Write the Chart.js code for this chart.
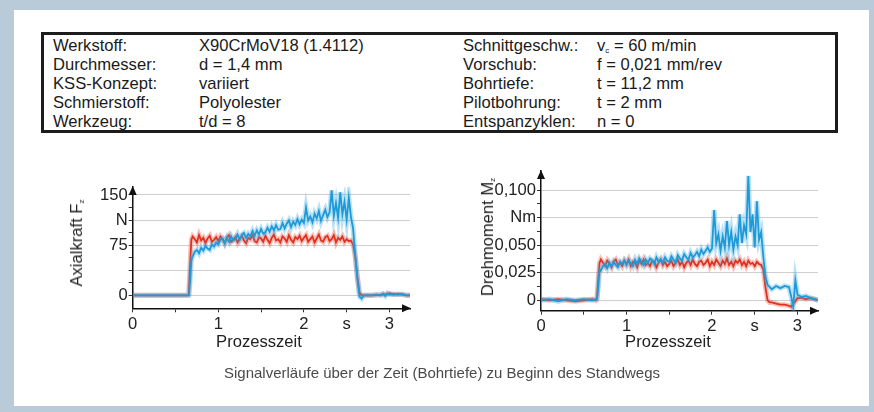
<!DOCTYPE html>
<html>
<head>
<meta charset="utf-8">
<script src="https://cdn.jsdelivr.net/npm/chart.js@4.4.1/dist/chart.umd.min.js"></script>
<style>
  html, body { margin: 0; padding: 0; }
  body { width: 874px; height: 412px; background: #b9cbd8; position: relative; overflow: hidden;
         font-family: Arial, "Liberation Sans", sans-serif; color: #1a1a1a; }
  .panel { position: absolute; left: 14px; top: 10px; width: 855px; height: 396px; background: #fff; }
  .box { position: absolute; left: 41px; top: 32px; width: 797px; height: 101px; box-sizing: border-box;
         border: 3px solid #1c1c1c; }
  .col { position: absolute; top: 35.5px; font-size: 16.6px; line-height: 19.1px; white-space: nowrap; }
  .col div { height: 19.1px; }
  sub { font-size: 8px; vertical-align: -2px; line-height: 0; }
  canvas { position: absolute; }
  .ytitle { position: absolute; font-size: 16.6px; white-space: nowrap; color: #222;
            transform: translate(-50%, -50%) rotate(-90deg); }
  .xtitle { position: absolute; font-size: 16.6px; white-space: nowrap; color: #222; transform: translate(-50%, -50%); }
  .caption { position: absolute; left: 442px; top: 372px; transform: translate(-50%, -50%); font-size: 15px;
             color: #4a4a4a; white-space: nowrap; }
</style>
</head>
<body>
<div class="panel"></div>
<div class="box"></div>
<div class="col" style="left:53px"><div>Werkstoff:</div><div>Durchmesser:</div><div>KSS-Konzept:</div><div>Schmierstoff:</div><div>Werkzeug:</div></div>
<div class="col" style="left:199px"><div>X90CrMoV18 (1.4112)</div><div>d = 1,4 mm</div><div>variiert</div><div>Polyolester</div><div>t/d = 8</div></div>
<div class="col" style="left:463px"><div>Schnittgeschw.:</div><div>Vorschub:</div><div>Bohrtiefe:</div><div>Pilotbohrung:</div><div>Entspanzyklen:</div></div>
<div class="col" style="left:597px"><div>v<sub>c</sub> = 60 m/min</div><div>f = 0,021 mm/rev</div><div>t = 11,2 mm</div><div>t = 2 mm</div><div>n = 0</div></div>

<canvas id="fz" width="356" height="176" style="left:60px; top:176px"></canvas>
<canvas id="mz" width="356" height="196" style="left:470px; top:160px"></canvas>

<div class="ytitle" style="left:77px; top:243px">Axialkraft F<sub>z</sub></div>
<div class="ytitle" style="left:488px; top:237px">Drehmoment M<sub>z</sub></div>
<div class="xtitle" style="left:259px; top:342px">Prozesszeit</div>
<div class="xtitle" style="left:668px; top:342px">Prozesszeit</div>
<div class="caption">Signalverläufe über der Zeit (Bohrtiefe) zu Beginn des Standwegs</div>

<script>
// time axis (s), shared by all four signals
const TIME = [
  0, 0.1, 0.2, 0.3, 0.4, 0.5, 0.6, 0.64, 0.655, 0.67, 0.685,
  0.7, 0.725, 0.75, 0.775, 0.8, 0.825, 0.85, 0.875, 0.9, 0.925, 0.95, 0.975,
  1.0, 1.025, 1.05, 1.075, 1.1, 1.125, 1.15, 1.175, 1.2, 1.225, 1.25, 1.275, 1.3, 1.325, 1.35, 1.375, 1.4, 1.425, 1.45, 1.475,
  1.5, 1.525, 1.55, 1.575, 1.6, 1.625, 1.65, 1.675, 1.7, 1.725, 1.75, 1.775, 1.8, 1.825, 1.85, 1.875, 1.9, 1.925, 1.95, 1.975,
  2.0, 2.025, 2.05, 2.075, 2.1, 2.125, 2.15, 2.175, 2.2, 2.225, 2.25, 2.275, 2.3, 2.325, 2.35, 2.375, 2.4, 2.425, 2.45, 2.475, 2.5, 2.525, 2.55,
  2.575, 2.6, 2.625, 2.65, 2.675, 2.7, 2.75, 2.8, 2.85, 2.9, 2.925, 2.95, 2.975, 3.0, 3.05, 3.1, 3.15, 3.2, 3.24
];

// Axialkraft Fz (N)
const FZ_RED = [
  0, 0, 0, 0, 0, 0, 0, 0, 1, 45, 83,
  88, 84, 79, 90, 82, 86, 78, 85, 89, 80, 83, 87,
  81, 88, 84, 78, 86, 90, 80, 83, 87, 79, 85, 89, 82, 78, 86, 84, 90, 81, 79, 87,
  85, 80, 89, 83, 78, 86, 91, 82, 84, 79, 88, 85, 80, 90, 83, 79, 87, 84, 89, 81,
  86, 90, 80, 84, 88, 79, 85, 91, 82, 80, 87, 89, 81, 84, 90, 79, 86, 83, 88, 80, 84, 81, 82,
  76, 58, 28, 4, 0, 0, 0, 0, 0.5, 1, 2, 1, 2, 3, 1, 2, 1, 0, 0
];
const FZ_BLUE = [
  0, 0, 0, 0, 0, 0, 0, 0, 0, 20, 52,
  58, 65, 68, 63, 71, 67, 74, 70, 68, 76, 73, 79,
  76, 83, 85, 78, 86, 80, 88, 82, 84, 91, 83, 90, 93, 86, 92, 88, 96, 89, 97, 91,
  99, 92, 94, 101, 95, 103, 97, 105, 98, 99, 108, 100, 107, 112, 102, 110, 105, 114, 106, 113,
  108, 131, 112, 118, 109, 122, 115, 126, 111, 120, 128, 117, 124, 157, 119, 138, 116, 154, 121, 140, 113, 146, 117,
  100, 60, 25, -2, -5, 0, 0, 0, 1, 0, 2, -1, 3, 1, 2, 1, 2, 0, 0
];

// Drehmoment Mz (Nm)
const MZ_RED = [
  0.001, 0.000, 0.001, 0.000, -0.001, 0.000, 0.001, 0.000, 0.002, 0.020, 0.034,
  0.037, 0.034, 0.031, 0.036, 0.033, 0.030, 0.035, 0.037, 0.032, 0.034, 0.031, 0.036,
  0.033, 0.037, 0.031, 0.035, 0.034, 0.030, 0.036, 0.033, 0.037, 0.032, 0.034, 0.031, 0.036, 0.035, 0.030, 0.034, 0.037, 0.032, 0.035, 0.031,
  0.033, 0.036, 0.031, 0.034, 0.037, 0.032, 0.035, 0.030, 0.034, 0.036, 0.032, 0.037, 0.033, 0.031, 0.035, 0.036, 0.032, 0.034, 0.037, 0.031,
  0.035, 0.032, 0.037, 0.034, 0.031, 0.036, 0.033, 0.038, 0.032, 0.035, 0.031, 0.036, 0.034, 0.037, 0.032, 0.035, 0.031, 0.036, 0.033, 0.034, 0.031, 0.035, 0.033,
  0.032, 0.028, 0.012, 0.000, -0.002, -0.002, -0.003, -0.004, -0.004, -0.005, -0.006, -0.003, -0.001, 0.002, 0.002, 0.001, 0.002, 0.001, 0.000
];
const MZ_BLUE = [
  0.000, 0.001, -0.001, 0.001, 0.000, 0.001, 0.000, 0.001, 0.001, 0.012, 0.028,
  0.027, 0.031, 0.033, 0.029, 0.034, 0.031, 0.035, 0.032, 0.030, 0.035, 0.033, 0.036,
  0.032, 0.036, 0.034, 0.031, 0.037, 0.033, 0.038, 0.035, 0.032, 0.037, 0.034, 0.038, 0.036, 0.033, 0.039, 0.035, 0.037, 0.034, 0.039, 0.036,
  0.035, 0.040, 0.037, 0.034, 0.041, 0.038, 0.036, 0.042, 0.039, 0.037, 0.043, 0.039, 0.041, 0.044, 0.040, 0.046, 0.042, 0.045, 0.048, 0.044,
  0.047, 0.082, 0.052, 0.060, 0.045, 0.058, 0.048, 0.072, 0.050, 0.062, 0.046, 0.058, 0.050, 0.078, 0.052, 0.068, 0.060, 0.113, 0.062, 0.078, 0.048, 0.090, 0.055,
  0.062, 0.040, 0.022, 0.014, 0.012, 0.010, 0.013, 0.011, 0.013, 0.012, 0.004, -0.006, 0.018, 0.005, 0.003, 0.004, 0.002, 0.001, 0.000
];

// axis ticks and their labels
const X_TICKS = [0, 0.5, 1, 1.5, 2, 2.5, 3];
const X_LABELS = ['0', '', '1', '', '2', 's', '3'];
const FZ_TICKS = [0, 18.75, 37.5, 56.25, 75, 93.75, 112.5, 131.25, 150];
const FZ_LABELS = ['0', '', '', '', '75', '', 'N', '', '150'];
const MZ_TICKS = [0, 0.0125, 0.025, 0.0375, 0.05, 0.0625, 0.075, 0.0875, 0.1];
const MZ_LABELS = ['0', '', '0,025', '', '0,050', '', 'Nm', '', '0,100'];

const BLUE = '#1e9ad8';
const BLUE_HALO = 'rgba(60,170,230,0.35)';
const RED = '#e1301f';
const RED_HALO = 'rgba(235,80,60,0.35)';
const FONT = { family: 'Arial, "Liberation Sans", sans-serif', size: 16.6 };

// arrow heads at the ends of both axes
const axisArrows = {
  id: 'axisArrows',
  afterDraw(chart) {
    const { ctx, chartArea: a } = chart;
    ctx.save();
    ctx.fillStyle = '#111';
    ctx.beginPath();
    ctx.moveTo(a.left, a.top - 1); ctx.lineTo(a.left - 4, a.top + 8); ctx.lineTo(a.left + 4, a.top + 8);
    ctx.closePath(); ctx.fill();
    ctx.beginPath();
    ctx.moveTo(a.right + 1, a.bottom); ctx.lineTo(a.right - 8, a.bottom - 4); ctx.lineTo(a.right - 8, a.bottom + 4);
    ctx.closePath(); ctx.fill();
    ctx.restore();
  }
};

function series(values) { return TIME.map((t, i) => ({ x: t, y: values[i] })); }
function line(values, color, width) {
  return { data: series(values), borderColor: color, borderWidth: width, pointRadius: 0, tension: 0 };
}

function makeChart(id, blue, red, o) {
  new Chart(document.getElementById(id), {
    type: 'line',
    data: {
      // first dataset is drawn on top
      datasets: [line(blue, BLUE, 1.8), line(blue, BLUE_HALO, 5), line(red, RED, 1.8), line(red, RED_HALO, 5)]
    },
    options: {
      responsive: false, animation: false,
      layout: { padding: { top: o.padTop, right: o.padRight, left: 0, bottom: 0 } },
      plugins: { legend: { display: false }, tooltip: { enabled: false } },
      scales: {
        x: {
          type: 'linear', min: 0, max: 3.24,
          afterBuildTicks: s => { s.ticks = X_TICKS.map(v => ({ value: v })); },
          afterFit: s => { s.height = o.xHeight; },
          ticks: { callback: (v, i) => X_LABELS[i], autoSkip: false, maxRotation: 0, padding: 2, color: '#222', font: FONT },
          grid: { drawOnChartArea: false, drawTicks: true, tickLength: 4, tickColor: '#333' },
          border: { display: true, color: '#111', width: 1.5 }
        },
        y: {
          min: o.yMin, max: o.yMax,
          afterBuildTicks: s => { s.ticks = o.ticks.map(v => ({ value: v })); },
          afterFit: s => { s.width = o.yWidth; },
          ticks: { callback: (v, i) => o.labels[i], autoSkip: false, padding: 1, color: '#222', font: FONT },
          grid: {
            color: c => (c.index % 2 === 0 ? '#cfcfcf' : 'rgba(0,0,0,0)'),
            lineWidth: 1, drawTicks: true, tickLength: 4, tickColor: '#333'
          },
          border: { display: true, color: '#111', width: 1.5 }
        }
      }
    },
    plugins: [axisArrows]
  });
}

makeChart('fz', FZ_BLUE, FZ_RED, {
  yMin: -19.4, yMax: 162, ticks: FZ_TICKS, labels: FZ_LABELS,
  yWidth: 72.7, xHeight: 43.7, padTop: 8, padRight: 6
});
makeChart('mz', MZ_BLUE, MZ_RED, {
  yMin: -0.0095, yMax: 0.1175, ticks: MZ_TICKS, labels: MZ_LABELS,
  yWidth: 71, xHeight: 45.3, padTop: 8, padRight: 8
});
</script>
</body>
</html>
